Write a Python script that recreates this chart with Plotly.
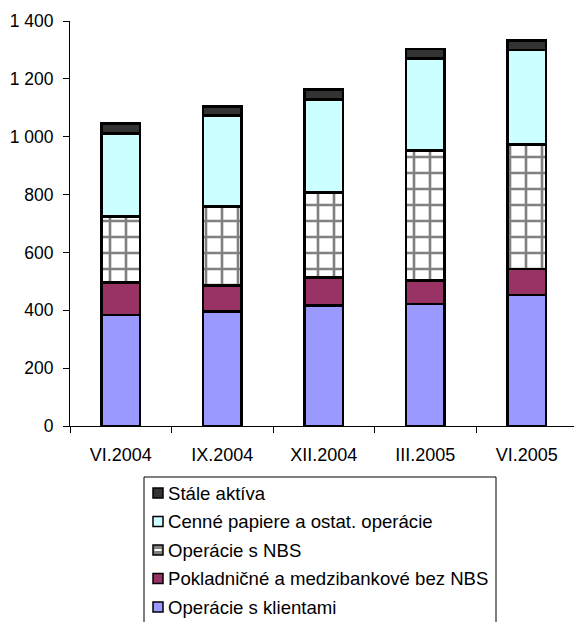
import plotly.graph_objects as go

# Stacked asset structure by reporting period (bottom segment first)
categories = ["VI.2004", "IX.2004", "XII.2004", "III.2005", "VI.2005"]
klienti = [384, 395, 416, 422, 453]
pokladnicne = [111, 90, 97, 80, 90]
nbs = [229, 273, 295, 449, 431]
cenne = [288, 316, 321, 320, 326]
stale = [34, 30, 33, 32, 32]

series_names = [
    "Operácie s klientami",
    "Pokladničné a medzibankové bez NBS",
    "Operácie s NBS",
    "Cenné papiere a ostat. operácie",
    "Stále aktíva",
]
series_values = [klienti, pokladnicne, nbs, cenne, stale]
series_colors = ["#9999FF", "#993366", "#FFFFFF", "#CCFFFF", "#333333"]

W, H = 574, 622
ML, MR, MT, MB = 70, 0, 21, 196
PW, PH = W - ML - MR, H - MT - MB
FONT = "Liberation Sans, Arial, sans-serif"

fig = go.Figure()
for name, vals, col in zip(series_names, series_values, series_colors):
    pattern = None
    if name == "Operácie s NBS":
        pattern = dict(shape="+", fgcolor="#808080", bgcolor="#FFFFFF",
                       size=16, solidity=0.3, fillmode="replace")
    fig.add_trace(go.Bar(
        x=categories, y=vals, name=name,
        marker=dict(color=col, line=dict(color="#000000", width=2.8),
                    pattern=pattern),
        showlegend=False,
    ))


def px_x(p):
    return (p - ML) / PW


def px_y(p):
    return 1 - (p - MT) / PH


# Hand-built legend box (top-down order: last series first)
shapes = [dict(type="rect", xref="paper", yref="paper",
               x0=px_x(144), x1=px_x(496), y0=px_y(640), y1=px_y(477),
               line=dict(color="#000000", width=1), fillcolor="#FFFFFF",
               layer="above")]
annotations = []
row_y = [493, 521.5, 550, 578.5, 607]
for i, (name, col) in enumerate(zip(series_names[::-1], series_colors[::-1])):
    cy = row_y[i]
    fill = "#808080" if name == "Operácie s NBS" else col
    shapes.append(dict(type="rect", xref="paper", yref="paper",
                       x0=px_x(153), x1=px_x(163), y0=px_y(cy + 5), y1=px_y(cy - 5),
                       line=dict(color="#000000", width=1.5), fillcolor=fill,
                       layer="above"))
    if name == "Operácie s NBS":
        shapes.append(dict(type="line", xref="paper", yref="paper",
                           x0=px_x(154.5), x1=px_x(161.5), y0=px_y(cy), y1=px_y(cy),
                           line=dict(color="#FFFFFF", width=2), layer="above"))
    annotations.append(dict(xref="paper", yref="paper", x=px_x(166), y=px_y(cy),
                            xanchor="left", yanchor="middle", text=name,
                            showarrow=False,
                            font=dict(family=FONT, size=18.6, color="#000000")))

fig.update_layout(
    width=W, height=H,
    margin=dict(l=ML, r=MR, t=MT, b=MB, pad=0),
    barmode="stack", bargap=0.62,
    paper_bgcolor="#FFFFFF", plot_bgcolor="#FFFFFF",
    separators=", ",
    font=dict(family=FONT, size=17, color="#000000"),
    shapes=shapes, annotations=annotations,
    showlegend=False,
)
fig.update_xaxes(
    range=[-0.5, -0.5 + PW / 101.5],
    showline=True, linecolor="#000000", linewidth=1,
    ticks="outside", ticklen=6, tickcolor="#000000", tickson="boundaries",
    ticklabelstandoff=12, showgrid=False, zeroline=False,
    tickfont=dict(family=FONT, size=18, color="#000000"),
)
fig.update_yaxes(
    range=[0, 1400], dtick=200, tickformat=",d",
    showline=True, linecolor="#000000", linewidth=1,
    ticks="outside", ticklen=6, tickcolor="#000000",
    ticklabelstandoff=6, showgrid=False, zeroline=False,
    tickfont=dict(family=FONT, size=17.5, color="#000000"),
)

fig.write_html("out.html")
